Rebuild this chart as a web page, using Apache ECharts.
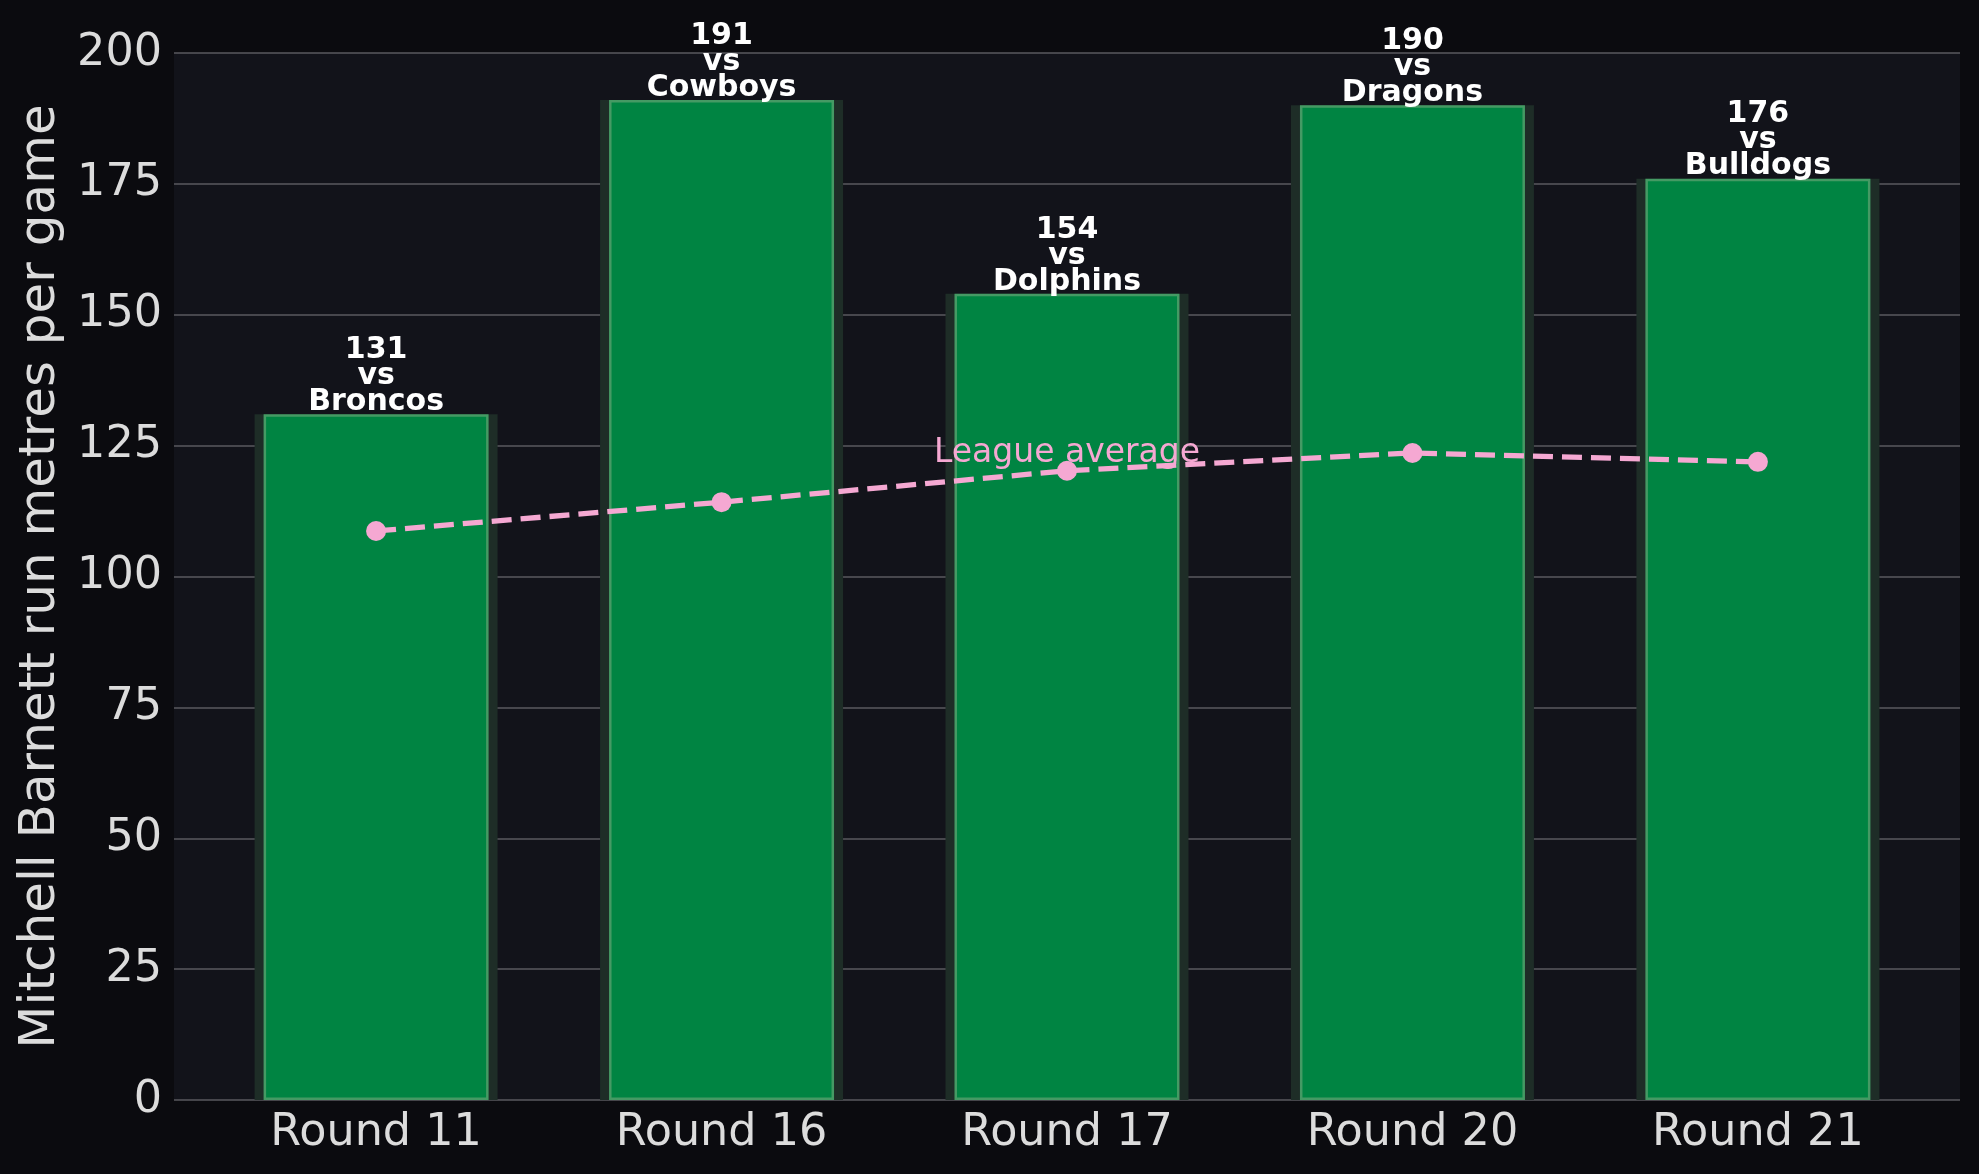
<!DOCTYPE html>
<html>
<head>
<meta charset="utf-8">
<script src="https://cdn.jsdelivr.net/npm/echarts@6/dist/echarts.min.js"></script>
<style>
  html, body { margin: 0; padding: 0; background: #0b0b0f; }
  #chart { width: 1979px; height: 1174px; }
</style>
</head>
<body>
<div id="chart"></div>
<script>
// 数据
var rounds = ['Round 11', 'Round 16', 'Round 17', 'Round 20', 'Round 21'];
var opponents = ['Broncos', 'Cowboys', 'Dolphins', 'Dragons', 'Bulldogs'];
var runMetres = [131, 191, 154, 190, 176];
var leagueAvg = [108.7, 114.2, 120.2, 123.6, 121.9];
var yTicks = [0, 25, 50, 75, 100, 125, 150, 175, 200];

var myChart = echarts.init(document.getElementById('chart'));

var barData = [];
var avgData = [];
for (var i = 0; i < rounds.length; i++) {
    barData.push([i, runMetres[i]]);
    avgData.push({
        value: [i, leagueAvg[i]],
        label: { show: i === 2 }
    });
}

var textColor = '#dcdcdc';
var xMin = -0.585, xMax = rounds.length - 1 + 0.585;

option = {
    backgroundColor: '#0b0b0f',
    animation: false,
    textStyle: { fontFamily: 'DejaVu Sans' },
    grid: {
        left: 174, right: 19, top: 53, bottom: 74,
        show: true,
        backgroundColor: '#12131a',
        borderWidth: 0
    },
    xAxis: [{
        type: 'value',
        min: xMin,
        max: xMax,
        splitLine: { show: false },
        axisLine: { show: false },
        axisTick: { show: false },
        axisLabel: {
            customValues: [0, 1, 2, 3, 4],
            formatter: function (v) { return rounds[Math.round(v)]; },
            color: textColor,
            fontSize: 44.5,
            margin: 11
        }
    }, {
        type: 'value',
        min: xMin,
        max: xMax,
        show: false
    }],
    yAxis: {
        type: 'value',
        min: yTicks[0],
        max: yTicks[yTicks.length - 1],
        interval: 25,
        name: 'Mitchell Barnett run metres per game',
        nameLocation: 'middle',
        nameGap: 106,
        nameTextStyle: { color: textColor, fontSize: 50 },
        axisLine: { show: false },
        axisTick: { show: false },
        axisLabel: { color: textColor, fontSize: 44.5, margin: 12 },
        splitLine: { lineStyle: { color: '#5a5a5f', width: 1.6 } }
    },
    series: [
        {
            // 阴影
            type: 'bar',
            xAxisIndex: 1,
            data: barData,
            barWidth: 243,
            silent: true,
            itemStyle: { color: '#1e2d27' },
            z: 1
        },
        {
            type: 'bar',
            xAxisIndex: 0,
            data: barData,
            barWidth: 225,
            itemStyle: { color: '#008442', borderColor: '#459a64', borderWidth: 2.5 },
            label: {
                show: true,
                position: 'top',
                distance: -1,
                color: '#ffffff',
                fontWeight: 'bold',
                fontSize: 30,
                lineHeight: 26,
                formatter: function (p) {
                    return runMetres[p.dataIndex] + '\nvs\n' + opponents[p.dataIndex];
                }
            },
            z: 2
        },
        {
            type: 'line',
            xAxisIndex: 0,
            data: avgData,
            symbol: 'circle',
            symbolSize: 20,
            itemStyle: { color: '#f5a8d2' },
            lineStyle: { color: '#f5a8d2', width: 5.3, type: [20, 9] },
            label: {
                position: 'inside',
                offset: [0, -17],
                color: '#f5a8d2',
                fontSize: 33,
                lineHeight: 33,
                formatter: 'League average'
            },
            z: 3
        }
    ]
};

myChart.setOption(option);
</script>
</body>
</html>
